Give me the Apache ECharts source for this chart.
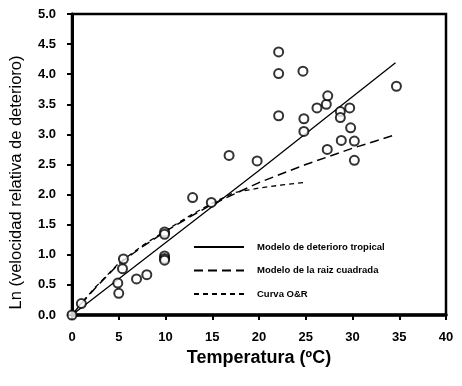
<!DOCTYPE html>
<html>
<head>
<meta charset="utf-8">
<script src="https://cdn.jsdelivr.net/npm/echarts@6/dist/echarts.min.js"></script>
<style>html,body{margin:0;padding:0;background:#fff}#c{width:462px;height:386px}</style>
</head>
<body>
<div id="c"></div>
<script>
// Observed data points (Temperatura, Ln velocidad relativa)
var obsT = [0, 1.0, 4.9, 5.0, 5.4, 5.5, 6.9, 8.0, 9.9, 9.9, 9.9, 9.9, 9.9, 12.9, 14.9, 16.8, 19.8,
            22.1, 22.1, 22.1, 24.7, 24.8, 24.8, 26.2, 27.2, 27.35, 27.3, 28.7, 28.7, 28.8, 29.7, 29.8, 30.2, 30.2, 34.7];
var obsY = [0, 0.19, 0.53, 0.36, 0.77, 0.93, 0.60, 0.67, 1.38, 1.34, 0.98, 0.94, 0.91, 1.95, 1.87, 2.65, 2.56,
            4.37, 4.01, 3.31, 4.05, 3.26, 3.05, 3.44, 3.50, 3.64, 2.75, 3.38, 3.28, 2.90, 3.44, 3.11, 2.89, 2.57, 3.80];
// Modelo de deterioro tropical
var tropT = [0, 10, 20, 34.6];
var tropY = [0, 1.2, 2.4, 4.19];
// Modelo de la raiz cuadrada
var sqrtT = [0, 1, 2.5, 5, 7.5, 10, 12.5, 15, 20, 25, 30, 34.7];
var sqrtY = [0, 0.19, 0.45, 0.85, 1.13, 1.39, 1.62, 1.84, 2.2, 2.5, 2.77, 3.0];
// Curva O&R
var orT = [0, 1, 2.5, 5, 7.5, 10, 12.5, 15, 17.3, 20, 22.5, 24.8];
var orY = [0, 0.2, 0.46, 0.86, 1.15, 1.4, 1.64, 1.86, 2.03, 2.11, 2.16, 2.2];

var names = ['Modelo de deterioro tropical', 'Modelo de la raiz cuadrada', 'Curva O&R'];

function pairs(a, b) { return a.map(function (v, i) { return [v, b[i]]; }); }

var chart = echarts.init(document.getElementById('c'));
var font = 'Liberation Sans, Arial, sans-serif';
chart.setOption({
  animation: false,
  backgroundColor: '#fff',
  grid: { left: 70, right: 16, top: 14, bottom: 71, show: true, borderColor: '#000', borderWidth: 2.5, backgroundColor: 'transparent' },
  xAxis: {
    type: 'value', min: 0, max: 40, interval: 5,
    name: 'Temperatura (ºC)', nameLocation: 'middle', nameGap: 27,
    nameTextStyle: { fontFamily: font, fontSize: 18, fontWeight: 'bold', color: '#000' },
    axisLine: { show: true, lineStyle: { color: '#000', width: 3.5 } },
    axisTick: { show: true, length: 5, lineStyle: { color: '#000', width: 2 } },
    axisLabel: { fontFamily: font, fontSize: 13, fontWeight: 'bold', color: '#000', margin: 16 },
    splitLine: { show: false }
  },
  yAxis: {
    type: 'value', min: 0, max: 5, interval: 0.5,
    name: 'Ln (velocidad relativa de deterioro)', nameLocation: 'middle', nameGap: 47,
    nameTextStyle: { fontFamily: font, fontSize: 16.5, color: '#000', padding: [0, 36, 0, 0] },
    axisLine: { show: true, lineStyle: { color: '#000', width: 3 } },
    axisTick: { show: true, length: 5, lineStyle: { color: '#000', width: 2 } },
    axisLabel: { fontFamily: font, fontSize: 13, fontWeight: 'bold', color: '#000', margin: 16,
      formatter: function (v) { return v.toFixed(1); } },
    splitLine: { show: false }
  },
  legend: {
    orient: 'vertical', left: 188, top: 237, itemWidth: 50, itemHeight: 12, itemGap: 13.5,
    data: names,
    itemStyle: { opacity: 0 },
    textStyle: { fontFamily: font, fontSize: 9.5, fontWeight: 'bold', color: '#000', padding: [0, 0, 0, 8] }
  },
  series: [
    { name: names[0], type: 'line', data: pairs(tropT, tropY), symbol: 'none',
      lineStyle: { color: '#000', width: 1.3, type: 'solid' }, itemStyle: { color: '#000' }, z: 3 },
    { name: names[1], type: 'line', data: pairs(sqrtT, sqrtY), symbol: 'none',
      lineStyle: { color: '#000', width: 1.5, type: [9, 5] }, itemStyle: { color: '#000' }, z: 3 },
    { name: names[2], type: 'line', data: pairs(orT, orY), symbol: 'none',
      lineStyle: { color: '#000', width: 1.3, type: [5, 4] }, itemStyle: { color: '#000' }, z: 3 },
    { name: 'obs', type: 'scatter', data: pairs(obsT, obsY), symbol: 'circle', symbolSize: 9,
      itemStyle: { color: '#fff', borderColor: '#000', borderWidth: 2 }, z: 4 }
  ]
});
</script>
</body>
</html>
